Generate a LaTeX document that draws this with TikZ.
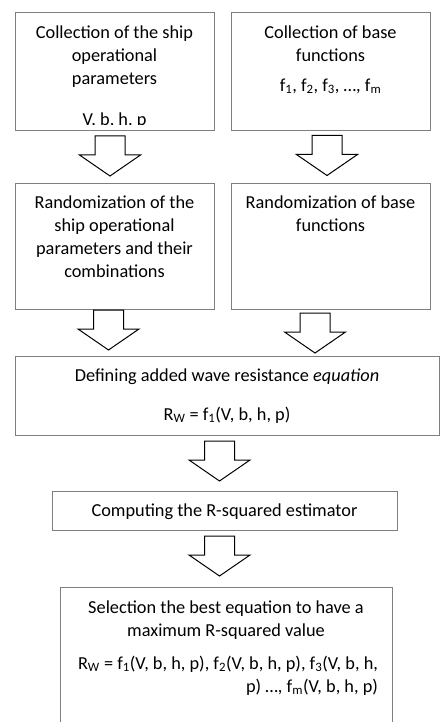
\documentclass[tikz,border=0pt]{standalone}
\usepackage{fontspec}
\setmainfont{Carlito}
\usetikzlibrary{positioning}

\definecolor{boxgray}{HTML}{7F7F7F}

\tikzset{
  pics/blockarrow/.style={code={
    \draw[line width=1pt, black, line join=miter]
      (-15,0) -- (15,0) -- (15,-19) -- (30.5,-19) -- (0,-40)
      -- (-30.5,-19) -- (-15,-19) -- cycle;
  }}
}

\begin{document}
\begin{tikzpicture}[
x=1pt, y=1pt,
every node/.style={font=\fontsize{18.3pt}{23pt}\selectfont},
flow box/.style={draw=boxgray, line width=1pt, minimum width=199pt, minimum height=118pt, inner sep=0pt, outer sep=0pt},
box text/.style={anchor=north, align=center, inner sep=0pt},
]
\useasboundingbox (0,0) rectangle (440,-722);

% Top row: collections
\node[flow box, anchor=north west] (collect) at (15,-13) {};
\node[flow box, right=17pt of collect] (bases) {};

\node[box text] (collecttxt) at ([yshift=-9pt]collect.north)
  {\strut Collection of the ship\\operational\\parameters};
\begin{scope}
  \clip (collect.north west) rectangle ([yshift=6.3pt]collect.south east);
  \node[box text] (params) at ([yshift=-96pt]collect.north) {\strut V, b, h, p};
\end{scope}
\node[box text] (basestxt) at ([yshift=-9pt]bases.north)
  {\strut Collection of base\\functions\\[7pt]f\textsubscript{1}, f\textsubscript{2}, f\textsubscript{3}, …, f\textsubscript{m}};

% Second row: randomization
\node[flow box, minimum height=126pt, below=52pt of collect] (randpar) {};
\node[flow box, minimum height=126pt, right=17pt of randpar] (randfun) {};

\node[box text] (randpartxt) at ([yshift=-9pt]randpar.north)
  {\strut Randomization of the\\ship operational\\parameters and their\\combinations};
\node[box text] (randfuntxt) at ([yshift=-9pt]randfun.north)
  {\strut Randomization of base\\functions};

% Equation box
\node[flow box, minimum width=424pt, minimum height=79pt, below=47pt of randpar.south west, anchor=north west] (define) {};
\node[box text] (definetxt) at ([yshift=-9pt]define.north)
  {\strut Defining added wave resistance \emph{equation}\\[16pt]R\textsubscript{W} = f\textsubscript{1}(V, b, h, p)};

% R-squared box
\node[flow box, minimum width=345pt, minimum height=39pt, below=56pt of define, xshift=-2.5pt] (rsq) {};
\node[box text] (rsqtxt) at ([yshift=-9pt]rsq.north) {\strut Computing the R-squared estimator};

% Selection box (runs off the page)
\node[flow box, minimum width=332pt, minimum height=150pt, below=57pt of rsq, xshift=1.5pt] (select) {};
\node[box text] (selecttxt) at ([yshift=-10pt]select.north)
  {\strut Selection the best equation to have a\\maximum R-squared value};
\node[box text, align=right] (selectfun) at ([xshift=2pt, yshift=-66pt]select.north)
  {\strut R\textsubscript{W} = f\textsubscript{1}(V, b, h, p), f\textsubscript{2}(V, b, h, p), f\textsubscript{3}(V, b, h,\\p) …, f\textsubscript{m}(V, b, h, p)};

% Block arrows between the steps
\pic at ([xshift=-4.5pt, yshift=-5pt]collect.south) {blockarrow};
\pic at ([xshift=-3.5pt, yshift=-4.5pt]bases.south) {blockarrow};
\pic at ([xshift=-6pt, yshift=-1pt]randpar.south) {blockarrow};
\pic at ([xshift=-15.5pt, yshift=-4pt]randfun.south) {blockarrow};
\pic at ([xshift=-7.5pt, yshift=-6pt]define.south) {blockarrow};
\pic at ([xshift=-5pt, yshift=-6pt]rsq.south) {blockarrow};
\end{tikzpicture}
\end{document}
